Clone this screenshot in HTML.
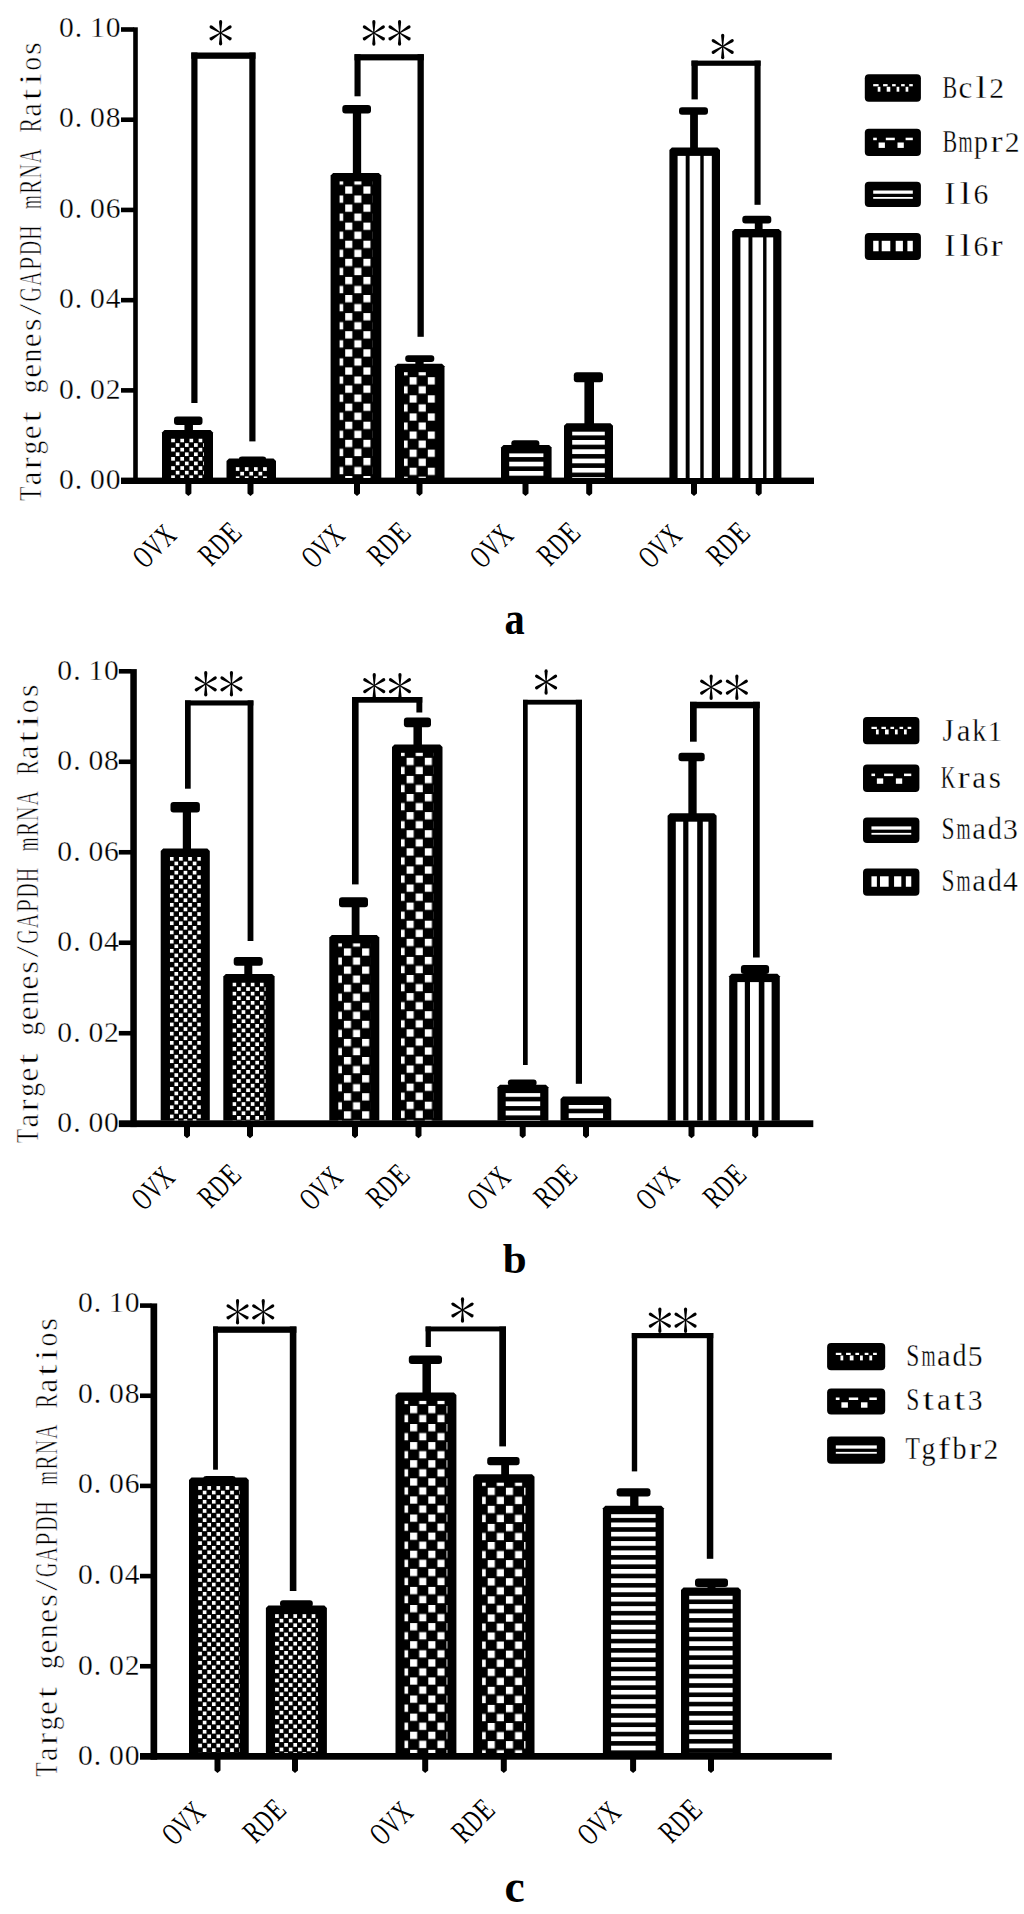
<!DOCTYPE html>
<html><head><meta charset="utf-8"><title>chart</title>
<style>
html,body{margin:0;padding:0;background:#fff;}
svg{display:block;font-family:"Liberation Serif",serif;fill:#000;}
</style></head><body>
<svg width="1024" height="1914" viewBox="0 0 1024 1914">
<defs>
<pattern id="dots" width="9.14" height="9.2" patternUnits="userSpaceOnUse">
<rect x="0" y="0" width="3.7" height="3.7" fill="#fff"/>
<rect x="4.57" y="4.6" width="3.7" height="3.7" fill="#fff"/>
</pattern>
<pattern id="chk" width="18.2" height="18.1" patternUnits="userSpaceOnUse">
<rect x="0" y="0" width="7.1" height="7.3" fill="#fff"/>
<rect x="9.1" y="9.05" width="7.1" height="7.3" fill="#fff"/>
</pattern>
<pattern id="hor" width="9.3" height="9.3" patternUnits="userSpaceOnUse">
<rect x="0" y="0" width="9.3" height="4.7" fill="#fff"/>
</pattern>
<pattern id="ver" width="15.4" height="15.4" patternUnits="userSpaceOnUse">
<rect x="0" y="0" width="3.6" height="15.4" fill="#000"/>
</pattern>
<pattern id="verb" width="15.8" height="15.8" patternUnits="userSpaceOnUse">
<rect x="0" y="0" width="3.8" height="15.8" fill="#000"/>
</pattern>
<g id="ast">
<path id="arm" d="M-0.5 0 L-1.6 -10.8 Q-1.7 -12.8 0 -12.8 Q1.7 -12.8 1.6 -10.8 L0.5 0 Z"/>
<use href="#arm" transform="rotate(180)"/>
<use href="#arm" transform="rotate(58)"/>
<use href="#arm" transform="rotate(-58)"/>
<use href="#arm" transform="rotate(122)"/>
<use href="#arm" transform="rotate(-122)"/>
</g>
</defs>
<rect width="1024" height="1914" fill="#fff"/>
<rect x="133.20" y="27.30" width="4.60" height="456.70" fill="#000"/>
<rect x="121.00" y="27.20" width="13.20" height="4.6" fill="#000"/>
<g transform="translate(120.80 36.70) rotate(0)" font-size="31.0" text-anchor="middle" stroke="#fff" stroke-width="0.3" paint-order="fill stroke"><text x="-54.43" y="0" font-size="29.61">0</text><text x="-42.30" y="0" font-size="29.61">.</text><text x="-23.33" y="0" font-size="29.61">1</text><text x="-7.77" y="0" font-size="29.61">0</text></g>
<rect x="121.00" y="117.42" width="13.20" height="4.6" fill="#000"/>
<g transform="translate(120.80 127.22) rotate(0)" font-size="31.0" text-anchor="middle" stroke="#fff" stroke-width="0.3" paint-order="fill stroke"><text x="-54.43" y="0" font-size="29.61">0</text><text x="-42.30" y="0" font-size="29.61">.</text><text x="-23.33" y="0" font-size="29.61">0</text><text x="-7.77" y="0" font-size="29.61">8</text></g>
<rect x="121.00" y="207.64" width="13.20" height="4.6" fill="#000"/>
<g transform="translate(120.80 217.74) rotate(0)" font-size="31.0" text-anchor="middle" stroke="#fff" stroke-width="0.3" paint-order="fill stroke"><text x="-54.43" y="0" font-size="29.61">0</text><text x="-42.30" y="0" font-size="29.61">.</text><text x="-23.33" y="0" font-size="29.61">0</text><text x="-7.77" y="0" font-size="29.61">6</text></g>
<rect x="121.00" y="297.86" width="13.20" height="4.6" fill="#000"/>
<g transform="translate(120.80 308.26) rotate(0)" font-size="31.0" text-anchor="middle" stroke="#fff" stroke-width="0.3" paint-order="fill stroke"><text x="-54.43" y="0" font-size="29.61">0</text><text x="-42.30" y="0" font-size="29.61">.</text><text x="-23.33" y="0" font-size="29.61">0</text><text x="-7.77" y="0" font-size="29.61">4</text></g>
<rect x="121.00" y="388.08" width="13.20" height="4.6" fill="#000"/>
<g transform="translate(120.80 398.78) rotate(0)" font-size="31.0" text-anchor="middle" stroke="#fff" stroke-width="0.3" paint-order="fill stroke"><text x="-54.43" y="0" font-size="29.61">0</text><text x="-42.30" y="0" font-size="29.61">.</text><text x="-23.33" y="0" font-size="29.61">0</text><text x="-7.77" y="0" font-size="29.61">2</text></g>
<g transform="translate(120.80 489.30) rotate(0)" font-size="31.0" text-anchor="middle" stroke="#fff" stroke-width="0.3" paint-order="fill stroke"><text x="-54.43" y="0" font-size="29.61">0</text><text x="-42.30" y="0" font-size="29.61">.</text><text x="-23.33" y="0" font-size="29.61">0</text><text x="-7.77" y="0" font-size="29.61">0</text></g>
<rect x="121.00" y="477.60" width="693.00" height="6.40" fill="#000"/>
<g transform="translate(41.40 501.40) rotate(-90)" font-size="32" text-anchor="middle" stroke="#fff" stroke-width="0.55" paint-order="fill stroke"><text transform="translate(7.67 0) scale(0.738 1)" x="0" y="0">T</text><text transform="translate(23.02 0) scale(0.973 1)" x="0" y="0">a</text><text transform="translate(38.38 0) scale(1.123 1)" x="0" y="0">r</text><text transform="translate(53.73 0) scale(0.863 1)" x="0" y="0">g</text><text transform="translate(69.08 0) scale(0.973 1)" x="0" y="0">e</text><text transform="translate(84.42 0) scale(1.300 1)" x="0" y="0">t</text><text transform="translate(115.12 0) scale(0.863 1)" x="0" y="0">g</text><text transform="translate(130.47 0) scale(0.973 1)" x="0" y="0">e</text><text transform="translate(145.82 0) scale(0.863 1)" x="0" y="0">n</text><text transform="translate(161.17 0) scale(0.973 1)" x="0" y="0">e</text><text x="176.53" y="0">s</text><text transform="translate(191.88 0) scale(1.300 1)" x="0" y="0">/</text><text transform="translate(207.22 0) scale(0.624 1)" x="0" y="0">G</text><text transform="translate(222.57 0) scale(0.624 1)" x="0" y="0">A</text><text transform="translate(237.92 0) scale(0.760 1)" x="0" y="0">P</text><text transform="translate(253.28 0) scale(0.624 1)" x="0" y="0">D</text><text transform="translate(268.62 0) scale(0.624 1)" x="0" y="0">H</text><text transform="translate(299.32 0) scale(0.555 1)" x="0" y="0">m</text><text transform="translate(314.68 0) scale(0.676 1)" x="0" y="0">R</text><text transform="translate(330.02 0) scale(0.624 1)" x="0" y="0">N</text><text transform="translate(345.38 0) scale(0.624 1)" x="0" y="0">A</text><text transform="translate(376.07 0) scale(0.676 1)" x="0" y="0">R</text><text transform="translate(391.43 0) scale(0.973 1)" x="0" y="0">a</text><text transform="translate(406.77 0) scale(1.300 1)" x="0" y="0">t</text><text transform="translate(422.12 0) scale(1.300 1)" x="0" y="0">i</text><text transform="translate(437.47 0) scale(0.863 1)" x="0" y="0">o</text><text x="452.82" y="0">s</text></g>
<path d="M162.00 478.00 V432.50 L164.50 430.00 H210.50 L213.00 432.50 V478.00 Z" fill="#000"/>
<pattern id="p1" href="#dots" x="171.20" y="438.60"/>
<rect x="171.00" y="438.40" width="33.00" height="39.60" fill="url(#p1)"/>
<path d="M226.50 478.00 V461.10 L229.00 458.60 H273.50 L276.00 461.10 V478.00 Z" fill="#000"/>
<pattern id="p2" href="#dots" x="235.70" y="467.20"/>
<rect x="235.50" y="467.00" width="31.50" height="11.00" fill="url(#p2)"/>
<path d="M330.60 478.00 V175.50 L333.10 173.00 H378.80 L381.30 175.50 V478.00 Z" fill="#000"/>
<pattern id="p3" href="#chk" x="345.20" y="186.40"/>
<rect x="339.60" y="181.40" width="32.70" height="296.60" fill="url(#p3)"/>
<path d="M395.00 478.00 V366.30 L397.50 363.80 H442.00 L444.50 366.30 V478.00 Z" fill="#000"/>
<pattern id="p4" href="#chk" x="409.60" y="377.20"/>
<rect x="404.00" y="372.20" width="31.50" height="105.80" fill="url(#p4)"/>
<path d="M501.00 478.00 V447.50 L503.50 445.00 H549.10 L551.60 447.50 V478.00 Z" fill="#000"/>
<pattern id="p5" href="#hor" x="509.20" y="452.40"/>
<rect x="509.20" y="453.40" width="34.20" height="24.60" fill="url(#p5)"/>
<path d="M564.00 478.00 V425.80 L566.50 423.30 H610.50 L613.00 425.80 V478.00 Z" fill="#000"/>
<pattern id="p6" href="#hor" x="572.20" y="430.70"/>
<rect x="572.20" y="431.70" width="32.60" height="46.30" fill="url(#p6)"/>
<path d="M669.40 478.00 V150.00 L671.90 147.50 H717.50 L720.00 150.00 V478.00 Z" fill="#000"/>
<rect x="677.60" y="155.90" width="34.20" height="322.10" fill="#fff"/>
<rect x="685.70" y="154.90" width="3.90" height="323.10" fill="#000"/>
<rect x="700.30" y="154.90" width="3.40" height="323.10" fill="#000"/>
<path d="M732.20 478.00 V231.50 L734.70 229.00 H778.90 L781.40 231.50 V478.00 Z" fill="#000"/>
<rect x="740.40" y="237.40" width="32.80" height="240.60" fill="#fff"/>
<rect x="748.50" y="236.40" width="3.90" height="241.60" fill="#000"/>
<rect x="763.10" y="236.40" width="3.40" height="241.60" fill="#000"/>
<rect x="174.00" y="416.40" width="28.50" height="8.60" rx="3" fill="#000"/>
<rect x="184.45" y="418.40" width="8.50" height="13.60" fill="#000"/>
<rect x="239.00" y="456.50" width="27.00" height="4.50" rx="3" fill="#000"/>
<rect x="247.75" y="458.50" width="8.50" height="2.50" fill="#000"/>
<rect x="342.30" y="105.00" width="28.70" height="8.50" rx="3" fill="#000"/>
<rect x="352.85" y="107.00" width="8.30" height="68.00" fill="#000"/>
<rect x="405.20" y="355.20" width="29.10" height="6.80" rx="3" fill="#000"/>
<rect x="415.35" y="357.20" width="8.30" height="8.80" fill="#000"/>
<rect x="511.30" y="440.20" width="28.10" height="6.80" rx="3" fill="#000"/>
<rect x="521.35" y="442.20" width="8.30" height="4.80" fill="#000"/>
<rect x="573.80" y="372.20" width="29.20" height="10.00" rx="3" fill="#000"/>
<rect x="584.40" y="374.20" width="9.60" height="50.80" fill="#000"/>
<rect x="679.00" y="107.20" width="29.00" height="7.50" rx="3" fill="#000"/>
<rect x="690.10" y="109.20" width="7.80" height="40.80" fill="#000"/>
<rect x="742.30" y="215.80" width="29.00" height="7.80" rx="3" fill="#000"/>
<rect x="754.80" y="217.80" width="7.80" height="13.20" fill="#000"/>
<rect x="191.30" y="52.50" width="64.20" height="6.30" fill="#000"/>
<rect x="191.30" y="52.50" width="6.20" height="350.50" fill="#000"/>
<rect x="249.30" y="52.50" width="6.20" height="388.90" fill="#000"/>
<rect x="354.50" y="54.20" width="69.30" height="6.20" fill="#000"/>
<rect x="354.50" y="54.20" width="6.10" height="42.10" fill="#000"/>
<rect x="417.50" y="54.20" width="6.30" height="282.60" fill="#000"/>
<rect x="691.50" y="60.60" width="69.10" height="5.20" fill="#000"/>
<rect x="691.50" y="60.60" width="6.30" height="38.80" fill="#000"/>
<rect x="754.50" y="60.60" width="6.10" height="144.20" fill="#000"/>
<use href="#ast" x="220.60" y="32.80"/>
<use href="#ast" x="373.85" y="32.90"/>
<use href="#ast" x="399.55" y="32.90"/>
<use href="#ast" x="722.70" y="46.50"/>
<path d="M185.40 484.00 V493.50 L188.40 496.00 L191.40 493.50 V484.00 Z" fill="#000"/>
<g transform="translate(178.10 537.00) rotate(-45)" font-size="31.5" text-anchor="middle"><text transform="translate(-39.00 0) scale(0.645 1)" x="0" y="0">O</text><text transform="translate(-23.40 0) scale(0.645 1)" x="0" y="0">V</text><text transform="translate(-7.80 0) scale(0.645 1)" x="0" y="0">X</text></g>
<path d="M247.50 484.00 V493.50 L250.50 496.00 L253.50 493.50 V484.00 Z" fill="#000"/>
<g transform="translate(243.70 534.40) rotate(-45)" font-size="31.5" text-anchor="middle"><text transform="translate(-39.00 0) scale(0.698 1)" x="0" y="0">R</text><text transform="translate(-23.40 0) scale(0.645 1)" x="0" y="0">D</text><text transform="translate(-7.80 0) scale(0.760 1)" x="0" y="0">E</text></g>
<path d="M354.00 484.00 V493.50 L357.00 496.00 L360.00 493.50 V484.00 Z" fill="#000"/>
<g transform="translate(346.70 537.00) rotate(-45)" font-size="31.5" text-anchor="middle"><text transform="translate(-39.00 0) scale(0.645 1)" x="0" y="0">O</text><text transform="translate(-23.40 0) scale(0.645 1)" x="0" y="0">V</text><text transform="translate(-7.80 0) scale(0.645 1)" x="0" y="0">X</text></g>
<path d="M416.50 484.00 V493.50 L419.50 496.00 L422.50 493.50 V484.00 Z" fill="#000"/>
<g transform="translate(412.70 534.40) rotate(-45)" font-size="31.5" text-anchor="middle"><text transform="translate(-39.00 0) scale(0.698 1)" x="0" y="0">R</text><text transform="translate(-23.40 0) scale(0.645 1)" x="0" y="0">D</text><text transform="translate(-7.80 0) scale(0.760 1)" x="0" y="0">E</text></g>
<path d="M522.50 484.00 V493.50 L525.50 496.00 L528.50 493.50 V484.00 Z" fill="#000"/>
<g transform="translate(515.20 537.00) rotate(-45)" font-size="31.5" text-anchor="middle"><text transform="translate(-39.00 0) scale(0.645 1)" x="0" y="0">O</text><text transform="translate(-23.40 0) scale(0.645 1)" x="0" y="0">V</text><text transform="translate(-7.80 0) scale(0.645 1)" x="0" y="0">X</text></g>
<path d="M586.20 484.00 V493.50 L589.20 496.00 L592.20 493.50 V484.00 Z" fill="#000"/>
<g transform="translate(582.40 534.40) rotate(-45)" font-size="31.5" text-anchor="middle"><text transform="translate(-39.00 0) scale(0.698 1)" x="0" y="0">R</text><text transform="translate(-23.40 0) scale(0.645 1)" x="0" y="0">D</text><text transform="translate(-7.80 0) scale(0.760 1)" x="0" y="0">E</text></g>
<path d="M691.00 484.00 V493.50 L694.00 496.00 L697.00 493.50 V484.00 Z" fill="#000"/>
<g transform="translate(683.70 537.00) rotate(-45)" font-size="31.5" text-anchor="middle"><text transform="translate(-39.00 0) scale(0.645 1)" x="0" y="0">O</text><text transform="translate(-23.40 0) scale(0.645 1)" x="0" y="0">V</text><text transform="translate(-7.80 0) scale(0.645 1)" x="0" y="0">X</text></g>
<path d="M755.70 484.00 V493.50 L758.70 496.00 L761.70 493.50 V484.00 Z" fill="#000"/>
<g transform="translate(751.90 534.40) rotate(-45)" font-size="31.5" text-anchor="middle"><text transform="translate(-39.00 0) scale(0.698 1)" x="0" y="0">R</text><text transform="translate(-23.40 0) scale(0.645 1)" x="0" y="0">D</text><text transform="translate(-7.80 0) scale(0.760 1)" x="0" y="0">E</text></g>
<rect x="864.80" y="74.30" width="56.10" height="27.50" fill="#000" rx="4"/>
<rect x="873.20" y="84.10" width="5.40" height="2.20" fill="#fff"/>
<rect x="883.10" y="84.10" width="4.50" height="2.20" fill="#fff"/>
<rect x="892.10" y="84.10" width="3.60" height="2.20" fill="#fff"/>
<rect x="901.10" y="84.10" width="3.60" height="2.20" fill="#fff"/>
<rect x="909.20" y="84.10" width="3.60" height="2.20" fill="#fff"/>
<rect x="877.70" y="86.80" width="2.70" height="4.90" fill="#fff"/>
<rect x="886.70" y="86.80" width="3.60" height="4.90" fill="#fff"/>
<rect x="896.60" y="86.80" width="2.70" height="4.90" fill="#fff"/>
<rect x="905.60" y="86.80" width="2.70" height="4.90" fill="#fff"/>
<g transform="translate(942.00 98.20) rotate(0)" font-size="31.0" text-anchor="middle" stroke="#fff" stroke-width="0.3" paint-order="fill stroke"><text transform="translate(7.80 0) scale(0.709 1)" x="0" y="0">B</text><text x="23.40" y="0">c</text><text transform="translate(39.00 0) scale(1.300 1)" x="0" y="0">l</text><text x="54.60" y="0" font-size="29.61">2</text></g>
<rect x="864.80" y="128.70" width="56.10" height="27.30" fill="#000" rx="4"/>
<rect x="873.20" y="137.70" width="3.60" height="2.50" fill="#fff"/>
<rect x="885.80" y="137.70" width="9.00" height="2.50" fill="#fff"/>
<rect x="905.60" y="137.70" width="7.20" height="2.50" fill="#fff"/>
<rect x="878.60" y="142.50" width="6.30" height="5.40" fill="#fff"/>
<rect x="897.50" y="142.50" width="6.30" height="5.40" fill="#fff"/>
<g transform="translate(942.00 152.40) rotate(0)" font-size="31.0" text-anchor="middle" stroke="#fff" stroke-width="0.3" paint-order="fill stroke"><text transform="translate(7.80 0) scale(0.709 1)" x="0" y="0">B</text><text transform="translate(23.40 0) scale(0.582 1)" x="0" y="0">m</text><text transform="translate(39.00 0) scale(0.906 1)" x="0" y="0">p</text><text transform="translate(54.60 0) scale(1.179 1)" x="0" y="0">r</text><text x="70.20" y="0" font-size="29.61">2</text></g>
<rect x="864.80" y="181.70" width="56.10" height="25.20" fill="#000" rx="4"/>
<rect x="873.20" y="190.50" width="39.60" height="3.25" fill="#fff"/>
<rect x="873.20" y="197.00" width="39.60" height="1.80" fill="#fff"/>
<g transform="translate(942.00 203.60) rotate(0)" font-size="31.0" text-anchor="middle" stroke="#fff" stroke-width="0.3" paint-order="fill stroke"><text transform="translate(7.80 0) scale(1.088 1)" x="0" y="0">I</text><text transform="translate(23.40 0) scale(1.300 1)" x="0" y="0">l</text><text x="39.00" y="0" font-size="29.61">6</text></g>
<rect x="864.80" y="232.90" width="56.10" height="27.00" fill="#000" rx="4"/>
<rect x="873.20" y="240.80" width="5.40" height="10.45" fill="#fff"/>
<rect x="881.70" y="240.80" width="8.60" height="10.45" fill="#fff"/>
<rect x="895.70" y="240.80" width="7.20" height="10.45" fill="#fff"/>
<rect x="907.40" y="240.80" width="5.40" height="10.45" fill="#fff"/>
<g transform="translate(942.00 255.80) rotate(0)" font-size="31.0" text-anchor="middle" stroke="#fff" stroke-width="0.3" paint-order="fill stroke"><text transform="translate(7.80 0) scale(1.088 1)" x="0" y="0">I</text><text transform="translate(23.40 0) scale(1.300 1)" x="0" y="0">l</text><text x="39.00" y="0" font-size="29.61">6</text><text transform="translate(54.60 0) scale(1.179 1)" x="0" y="0">r</text></g>
<text transform="translate(514.7 633.5) scale(0.94 1.08)" font-size="43" font-weight="bold" text-anchor="middle">a</text>
<rect x="130.30" y="669.10" width="6.50" height="458.00" fill="#000"/>
<rect x="118.80" y="669.00" width="12.50" height="4.6" fill="#000"/>
<g transform="translate(119.20 679.50) rotate(0)" font-size="31.0" text-anchor="middle" stroke="#fff" stroke-width="0.3" paint-order="fill stroke"><text x="-54.43" y="0" font-size="29.61">0</text><text x="-42.30" y="0" font-size="29.61">.</text><text x="-23.33" y="0" font-size="29.61">1</text><text x="-7.77" y="0" font-size="29.61">0</text></g>
<rect x="118.80" y="759.48" width="12.50" height="4.6" fill="#000"/>
<g transform="translate(119.20 770.00) rotate(0)" font-size="31.0" text-anchor="middle" stroke="#fff" stroke-width="0.3" paint-order="fill stroke"><text x="-54.43" y="0" font-size="29.61">0</text><text x="-42.30" y="0" font-size="29.61">.</text><text x="-23.33" y="0" font-size="29.61">0</text><text x="-7.77" y="0" font-size="29.61">8</text></g>
<rect x="118.80" y="849.96" width="12.50" height="4.6" fill="#000"/>
<g transform="translate(119.20 860.50) rotate(0)" font-size="31.0" text-anchor="middle" stroke="#fff" stroke-width="0.3" paint-order="fill stroke"><text x="-54.43" y="0" font-size="29.61">0</text><text x="-42.30" y="0" font-size="29.61">.</text><text x="-23.33" y="0" font-size="29.61">0</text><text x="-7.77" y="0" font-size="29.61">6</text></g>
<rect x="118.80" y="940.44" width="12.50" height="4.6" fill="#000"/>
<g transform="translate(119.20 951.00) rotate(0)" font-size="31.0" text-anchor="middle" stroke="#fff" stroke-width="0.3" paint-order="fill stroke"><text x="-54.43" y="0" font-size="29.61">0</text><text x="-42.30" y="0" font-size="29.61">.</text><text x="-23.33" y="0" font-size="29.61">0</text><text x="-7.77" y="0" font-size="29.61">4</text></g>
<rect x="118.80" y="1030.92" width="12.50" height="4.6" fill="#000"/>
<g transform="translate(119.20 1041.50) rotate(0)" font-size="31.0" text-anchor="middle" stroke="#fff" stroke-width="0.3" paint-order="fill stroke"><text x="-54.43" y="0" font-size="29.61">0</text><text x="-42.30" y="0" font-size="29.61">.</text><text x="-23.33" y="0" font-size="29.61">0</text><text x="-7.77" y="0" font-size="29.61">2</text></g>
<g transform="translate(119.20 1132.00) rotate(0)" font-size="31.0" text-anchor="middle" stroke="#fff" stroke-width="0.3" paint-order="fill stroke"><text x="-54.43" y="0" font-size="29.61">0</text><text x="-42.30" y="0" font-size="29.61">.</text><text x="-23.33" y="0" font-size="29.61">0</text><text x="-7.77" y="0" font-size="29.61">0</text></g>
<rect x="118.80" y="1120.30" width="694.50" height="6.80" fill="#000"/>
<g transform="translate(38.30 1143.70) rotate(-90)" font-size="32" text-anchor="middle" stroke="#fff" stroke-width="0.55" paint-order="fill stroke"><text transform="translate(7.67 0) scale(0.738 1)" x="0" y="0">T</text><text transform="translate(23.02 0) scale(0.973 1)" x="0" y="0">a</text><text transform="translate(38.38 0) scale(1.123 1)" x="0" y="0">r</text><text transform="translate(53.73 0) scale(0.863 1)" x="0" y="0">g</text><text transform="translate(69.08 0) scale(0.973 1)" x="0" y="0">e</text><text transform="translate(84.42 0) scale(1.300 1)" x="0" y="0">t</text><text transform="translate(115.12 0) scale(0.863 1)" x="0" y="0">g</text><text transform="translate(130.47 0) scale(0.973 1)" x="0" y="0">e</text><text transform="translate(145.82 0) scale(0.863 1)" x="0" y="0">n</text><text transform="translate(161.17 0) scale(0.973 1)" x="0" y="0">e</text><text x="176.53" y="0">s</text><text transform="translate(191.88 0) scale(1.300 1)" x="0" y="0">/</text><text transform="translate(207.22 0) scale(0.624 1)" x="0" y="0">G</text><text transform="translate(222.57 0) scale(0.624 1)" x="0" y="0">A</text><text transform="translate(237.92 0) scale(0.760 1)" x="0" y="0">P</text><text transform="translate(253.28 0) scale(0.624 1)" x="0" y="0">D</text><text transform="translate(268.62 0) scale(0.624 1)" x="0" y="0">H</text><text transform="translate(299.32 0) scale(0.555 1)" x="0" y="0">m</text><text transform="translate(314.68 0) scale(0.676 1)" x="0" y="0">R</text><text transform="translate(330.02 0) scale(0.624 1)" x="0" y="0">N</text><text transform="translate(345.38 0) scale(0.624 1)" x="0" y="0">A</text><text transform="translate(376.07 0) scale(0.676 1)" x="0" y="0">R</text><text transform="translate(391.43 0) scale(0.973 1)" x="0" y="0">a</text><text transform="translate(406.77 0) scale(1.300 1)" x="0" y="0">t</text><text transform="translate(422.12 0) scale(1.300 1)" x="0" y="0">i</text><text transform="translate(437.47 0) scale(0.863 1)" x="0" y="0">o</text><text x="452.82" y="0">s</text></g>
<path d="M160.70 1120.50 V850.90 L163.20 848.40 H207.30 L209.80 850.90 V1120.50 Z" fill="#000"/>
<pattern id="p7" href="#dots" x="169.90" y="857.00"/>
<rect x="169.70" y="856.80" width="31.10" height="263.70" fill="url(#p7)"/>
<path d="M223.30 1120.50 V976.50 L225.80 974.00 H272.10 L274.60 976.50 V1120.50 Z" fill="#000"/>
<pattern id="p8" href="#dots" x="232.50" y="982.60"/>
<rect x="232.30" y="982.40" width="33.30" height="138.10" fill="url(#p8)"/>
<path d="M329.30 1120.50 V937.50 L331.80 935.00 H376.80 L379.30 937.50 V1120.50 Z" fill="#000"/>
<pattern id="p9" href="#chk" x="343.90" y="948.40"/>
<rect x="338.30" y="943.40" width="32.00" height="177.10" fill="url(#p9)"/>
<path d="M392.00 1120.50 V746.90 L394.50 744.40 H440.00 L442.50 746.90 V1120.50 Z" fill="#000"/>
<pattern id="p10" href="#chk" x="406.60" y="757.80"/>
<rect x="401.00" y="752.80" width="32.50" height="367.70" fill="url(#p10)"/>
<path d="M497.50 1120.50 V1087.20 L500.00 1084.70 H545.90 L548.40 1087.20 V1120.50 Z" fill="#000"/>
<pattern id="p11" href="#hor" x="505.70" y="1092.10"/>
<rect x="505.70" y="1093.10" width="34.50" height="27.40" fill="url(#p11)"/>
<path d="M560.50 1120.50 V1099.10 L563.00 1096.60 H608.75 L611.25 1099.10 V1120.50 Z" fill="#000"/>
<pattern id="p12" href="#hor" x="568.70" y="1104.00"/>
<rect x="568.70" y="1105.00" width="34.35" height="15.50" fill="url(#p12)"/>
<path d="M667.60 1120.50 V815.80 L670.10 813.30 H714.10 L716.60 815.80 V1120.50 Z" fill="#000"/>
<rect x="675.80" y="821.70" width="32.60" height="298.80" fill="#fff"/>
<rect x="683.20" y="820.70" width="5.20" height="299.80" fill="#000"/>
<rect x="697.20" y="820.70" width="5.60" height="299.80" fill="#000"/>
<path d="M729.20 1120.50 V976.20 L731.70 973.70 H777.30 L779.80 976.20 V1120.50 Z" fill="#000"/>
<rect x="737.40" y="982.10" width="34.20" height="138.40" fill="#fff"/>
<rect x="744.80" y="981.10" width="5.20" height="139.40" fill="#000"/>
<rect x="758.80" y="981.10" width="5.60" height="139.40" fill="#000"/>
<rect x="170.50" y="802.00" width="29.40" height="10.40" rx="3" fill="#000"/>
<rect x="182.80" y="804.00" width="8.20" height="46.00" fill="#000"/>
<rect x="233.70" y="957.00" width="29.10" height="8.70" rx="3" fill="#000"/>
<rect x="244.30" y="959.00" width="8.00" height="18.00" fill="#000"/>
<rect x="339.00" y="897.30" width="29.00" height="9.90" rx="3" fill="#000"/>
<rect x="351.70" y="899.30" width="7.80" height="37.70" fill="#000"/>
<rect x="403.90" y="717.50" width="27.10" height="9.70" rx="3" fill="#000"/>
<rect x="413.45" y="719.50" width="8.50" height="27.50" fill="#000"/>
<rect x="507.80" y="1079.40" width="28.80" height="6.60" rx="3" fill="#000"/>
<rect x="518.45" y="1081.40" width="7.50" height="4.60" fill="#000"/>
<rect x="678.50" y="752.70" width="26.20" height="8.60" rx="3" fill="#000"/>
<rect x="688.35" y="754.70" width="8.30" height="60.30" fill="#000"/>
<rect x="740.90" y="965.00" width="28.20" height="9.00" rx="3" fill="#000"/>
<rect x="751.40" y="967.00" width="7.20" height="9.00" fill="#000"/>
<rect x="185.00" y="700.40" width="68.40" height="5.10" fill="#000"/>
<rect x="185.00" y="700.40" width="5.70" height="88.30" fill="#000"/>
<rect x="247.60" y="700.40" width="5.80" height="240.60" fill="#000"/>
<rect x="352.00" y="697.00" width="70.30" height="5.70" fill="#000"/>
<rect x="352.00" y="697.00" width="6.60" height="187.40" fill="#000"/>
<rect x="416.40" y="697.00" width="5.90" height="15.50" fill="#000"/>
<rect x="523.00" y="699.80" width="59.00" height="4.80" fill="#000"/>
<rect x="523.00" y="699.80" width="4.70" height="365.20" fill="#000"/>
<rect x="575.80" y="699.80" width="6.20" height="384.00" fill="#000"/>
<rect x="690.00" y="701.80" width="69.70" height="6.50" fill="#000"/>
<rect x="690.00" y="701.80" width="6.70" height="39.90" fill="#000"/>
<rect x="753.00" y="701.80" width="6.70" height="255.70" fill="#000"/>
<use href="#ast" x="205.75" y="683.80"/>
<use href="#ast" x="231.45" y="683.80"/>
<use href="#ast" x="374.25" y="685.70"/>
<use href="#ast" x="399.95" y="685.70"/>
<use href="#ast" x="546.10" y="682.00"/>
<use href="#ast" x="711.15" y="687.20"/>
<use href="#ast" x="736.85" y="687.20"/>
<path d="M184.00 1126.00 V1135.80 L187.00 1138.30 L190.00 1135.80 V1126.00 Z" fill="#000"/>
<g transform="translate(176.70 1179.00) rotate(-45)" font-size="31.5" text-anchor="middle"><text transform="translate(-39.00 0) scale(0.645 1)" x="0" y="0">O</text><text transform="translate(-23.40 0) scale(0.645 1)" x="0" y="0">V</text><text transform="translate(-7.80 0) scale(0.645 1)" x="0" y="0">X</text></g>
<path d="M247.00 1126.00 V1135.80 L250.00 1138.30 L253.00 1135.80 V1126.00 Z" fill="#000"/>
<g transform="translate(243.20 1176.40) rotate(-45)" font-size="31.5" text-anchor="middle"><text transform="translate(-39.00 0) scale(0.698 1)" x="0" y="0">R</text><text transform="translate(-23.40 0) scale(0.645 1)" x="0" y="0">D</text><text transform="translate(-7.80 0) scale(0.760 1)" x="0" y="0">E</text></g>
<path d="M352.00 1126.00 V1135.80 L355.00 1138.30 L358.00 1135.80 V1126.00 Z" fill="#000"/>
<g transform="translate(344.70 1179.00) rotate(-45)" font-size="31.5" text-anchor="middle"><text transform="translate(-39.00 0) scale(0.645 1)" x="0" y="0">O</text><text transform="translate(-23.40 0) scale(0.645 1)" x="0" y="0">V</text><text transform="translate(-7.80 0) scale(0.645 1)" x="0" y="0">X</text></g>
<path d="M415.50 1126.00 V1135.80 L418.50 1138.30 L421.50 1135.80 V1126.00 Z" fill="#000"/>
<g transform="translate(411.70 1176.40) rotate(-45)" font-size="31.5" text-anchor="middle"><text transform="translate(-39.00 0) scale(0.698 1)" x="0" y="0">R</text><text transform="translate(-23.40 0) scale(0.645 1)" x="0" y="0">D</text><text transform="translate(-7.80 0) scale(0.760 1)" x="0" y="0">E</text></g>
<path d="M519.70 1126.00 V1135.80 L522.70 1138.30 L525.70 1135.80 V1126.00 Z" fill="#000"/>
<g transform="translate(512.40 1179.00) rotate(-45)" font-size="31.5" text-anchor="middle"><text transform="translate(-39.00 0) scale(0.645 1)" x="0" y="0">O</text><text transform="translate(-23.40 0) scale(0.645 1)" x="0" y="0">V</text><text transform="translate(-7.80 0) scale(0.645 1)" x="0" y="0">X</text></g>
<path d="M583.00 1126.00 V1135.80 L586.00 1138.30 L589.00 1135.80 V1126.00 Z" fill="#000"/>
<g transform="translate(579.20 1176.40) rotate(-45)" font-size="31.5" text-anchor="middle"><text transform="translate(-39.00 0) scale(0.698 1)" x="0" y="0">R</text><text transform="translate(-23.40 0) scale(0.645 1)" x="0" y="0">D</text><text transform="translate(-7.80 0) scale(0.760 1)" x="0" y="0">E</text></g>
<path d="M688.50 1126.00 V1135.80 L691.50 1138.30 L694.50 1135.80 V1126.00 Z" fill="#000"/>
<g transform="translate(681.20 1179.00) rotate(-45)" font-size="31.5" text-anchor="middle"><text transform="translate(-39.00 0) scale(0.645 1)" x="0" y="0">O</text><text transform="translate(-23.40 0) scale(0.645 1)" x="0" y="0">V</text><text transform="translate(-7.80 0) scale(0.645 1)" x="0" y="0">X</text></g>
<path d="M752.20 1126.00 V1135.80 L755.20 1138.30 L758.20 1135.80 V1126.00 Z" fill="#000"/>
<g transform="translate(748.40 1176.40) rotate(-45)" font-size="31.5" text-anchor="middle"><text transform="translate(-39.00 0) scale(0.698 1)" x="0" y="0">R</text><text transform="translate(-23.40 0) scale(0.645 1)" x="0" y="0">D</text><text transform="translate(-7.80 0) scale(0.760 1)" x="0" y="0">E</text></g>
<rect x="863.00" y="717.00" width="56.40" height="27.30" fill="#000" rx="4"/>
<rect x="871.44" y="726.80" width="5.43" height="2.20" fill="#fff"/>
<rect x="881.40" y="726.80" width="4.52" height="2.20" fill="#fff"/>
<rect x="890.45" y="726.80" width="3.62" height="2.20" fill="#fff"/>
<rect x="899.49" y="726.80" width="3.62" height="2.20" fill="#fff"/>
<rect x="907.64" y="726.80" width="3.62" height="2.20" fill="#fff"/>
<rect x="875.97" y="729.50" width="2.71" height="4.90" fill="#fff"/>
<rect x="885.02" y="729.50" width="3.62" height="4.90" fill="#fff"/>
<rect x="894.97" y="729.50" width="2.71" height="4.90" fill="#fff"/>
<rect x="904.02" y="729.50" width="2.71" height="4.90" fill="#fff"/>
<g transform="translate(940.20 741.20) rotate(0)" font-size="31.0" text-anchor="middle" stroke="#fff" stroke-width="0.3" paint-order="fill stroke"><text transform="translate(7.80 0) scale(0.931 1)" x="0" y="0">J</text><text x="23.40" y="0">a</text><text transform="translate(39.00 0) scale(0.906 1)" x="0" y="0">k</text><text x="54.60" y="0" font-size="29.61">1</text></g>
<rect x="863.00" y="764.60" width="56.40" height="27.40" fill="#000" rx="4"/>
<rect x="871.44" y="773.60" width="3.62" height="2.50" fill="#fff"/>
<rect x="884.11" y="773.60" width="9.05" height="2.50" fill="#fff"/>
<rect x="904.02" y="773.60" width="7.24" height="2.50" fill="#fff"/>
<rect x="876.87" y="778.40" width="6.33" height="5.40" fill="#fff"/>
<rect x="895.87" y="778.40" width="6.33" height="5.40" fill="#fff"/>
<g transform="translate(940.20 788.00) rotate(0)" font-size="31.0" text-anchor="middle" stroke="#fff" stroke-width="0.3" paint-order="fill stroke"><text transform="translate(7.80 0) scale(0.655 1)" x="0" y="0">K</text><text transform="translate(23.40 0) scale(1.179 1)" x="0" y="0">r</text><text x="39.00" y="0">a</text><text transform="translate(54.60 0) scale(1.009 1)" x="0" y="0">s</text></g>
<rect x="863.00" y="817.60" width="56.40" height="25.40" fill="#000" rx="4"/>
<rect x="871.44" y="826.40" width="39.81" height="3.25" fill="#fff"/>
<rect x="871.44" y="832.90" width="39.81" height="1.80" fill="#fff"/>
<g transform="translate(940.20 838.80) rotate(0)" font-size="31.0" text-anchor="middle" stroke="#fff" stroke-width="0.3" paint-order="fill stroke"><text transform="translate(7.80 0) scale(0.760 1)" x="0" y="0">S</text><text transform="translate(23.40 0) scale(0.582 1)" x="0" y="0">m</text><text x="39.00" y="0">a</text><text transform="translate(54.60 0) scale(0.906 1)" x="0" y="0">d</text><text x="70.20" y="0" font-size="29.61">3</text></g>
<rect x="863.00" y="868.40" width="56.40" height="27.40" fill="#000" rx="4"/>
<rect x="871.44" y="876.30" width="5.43" height="10.45" fill="#fff"/>
<rect x="879.99" y="876.30" width="8.65" height="10.45" fill="#fff"/>
<rect x="894.07" y="876.30" width="7.24" height="10.45" fill="#fff"/>
<rect x="905.83" y="876.30" width="5.43" height="10.45" fill="#fff"/>
<g transform="translate(940.20 891.30) rotate(0)" font-size="31.0" text-anchor="middle" stroke="#fff" stroke-width="0.3" paint-order="fill stroke"><text transform="translate(7.80 0) scale(0.760 1)" x="0" y="0">S</text><text transform="translate(23.40 0) scale(0.582 1)" x="0" y="0">m</text><text x="39.00" y="0">a</text><text transform="translate(54.60 0) scale(0.906 1)" x="0" y="0">d</text><text x="70.20" y="0" font-size="29.61">4</text></g>
<text x="514.7" y="1273" font-size="43" font-weight="bold" text-anchor="middle">b</text>
<rect x="150.50" y="1303.40" width="6.70" height="456.30" fill="#000"/>
<rect x="140.00" y="1303.30" width="11.50" height="4.6" fill="#000"/>
<g transform="translate(139.80 1312.40) rotate(0)" font-size="31.0" text-anchor="middle" stroke="#fff" stroke-width="0.3" paint-order="fill stroke"><text x="-54.43" y="0" font-size="29.61">0</text><text x="-42.30" y="0" font-size="29.61">.</text><text x="-23.33" y="0" font-size="29.61">1</text><text x="-7.77" y="0" font-size="29.61">0</text></g>
<rect x="140.00" y="1393.46" width="11.50" height="4.6" fill="#000"/>
<g transform="translate(139.80 1402.94) rotate(0)" font-size="31.0" text-anchor="middle" stroke="#fff" stroke-width="0.3" paint-order="fill stroke"><text x="-54.43" y="0" font-size="29.61">0</text><text x="-42.30" y="0" font-size="29.61">.</text><text x="-23.33" y="0" font-size="29.61">0</text><text x="-7.77" y="0" font-size="29.61">8</text></g>
<rect x="140.00" y="1483.62" width="11.50" height="4.6" fill="#000"/>
<g transform="translate(139.80 1493.48) rotate(0)" font-size="31.0" text-anchor="middle" stroke="#fff" stroke-width="0.3" paint-order="fill stroke"><text x="-54.43" y="0" font-size="29.61">0</text><text x="-42.30" y="0" font-size="29.61">.</text><text x="-23.33" y="0" font-size="29.61">0</text><text x="-7.77" y="0" font-size="29.61">6</text></g>
<rect x="140.00" y="1573.78" width="11.50" height="4.6" fill="#000"/>
<g transform="translate(139.80 1584.02) rotate(0)" font-size="31.0" text-anchor="middle" stroke="#fff" stroke-width="0.3" paint-order="fill stroke"><text x="-54.43" y="0" font-size="29.61">0</text><text x="-42.30" y="0" font-size="29.61">.</text><text x="-23.33" y="0" font-size="29.61">0</text><text x="-7.77" y="0" font-size="29.61">4</text></g>
<rect x="140.00" y="1663.94" width="11.50" height="4.6" fill="#000"/>
<g transform="translate(139.80 1674.56) rotate(0)" font-size="31.0" text-anchor="middle" stroke="#fff" stroke-width="0.3" paint-order="fill stroke"><text x="-54.43" y="0" font-size="29.61">0</text><text x="-42.30" y="0" font-size="29.61">.</text><text x="-23.33" y="0" font-size="29.61">0</text><text x="-7.77" y="0" font-size="29.61">2</text></g>
<g transform="translate(139.80 1765.10) rotate(0)" font-size="31.0" text-anchor="middle" stroke="#fff" stroke-width="0.3" paint-order="fill stroke"><text x="-54.43" y="0" font-size="29.61">0</text><text x="-42.30" y="0" font-size="29.61">.</text><text x="-23.33" y="0" font-size="29.61">0</text><text x="-7.77" y="0" font-size="29.61">0</text></g>
<rect x="140.00" y="1753.00" width="691.80" height="6.70" fill="#000"/>
<g transform="translate(56.70 1777.10) rotate(-90)" font-size="32" text-anchor="middle" stroke="#fff" stroke-width="0.55" paint-order="fill stroke"><text transform="translate(7.67 0) scale(0.738 1)" x="0" y="0">T</text><text transform="translate(23.02 0) scale(0.973 1)" x="0" y="0">a</text><text transform="translate(38.38 0) scale(1.123 1)" x="0" y="0">r</text><text transform="translate(53.73 0) scale(0.863 1)" x="0" y="0">g</text><text transform="translate(69.08 0) scale(0.973 1)" x="0" y="0">e</text><text transform="translate(84.42 0) scale(1.300 1)" x="0" y="0">t</text><text transform="translate(115.12 0) scale(0.863 1)" x="0" y="0">g</text><text transform="translate(130.47 0) scale(0.973 1)" x="0" y="0">e</text><text transform="translate(145.82 0) scale(0.863 1)" x="0" y="0">n</text><text transform="translate(161.17 0) scale(0.973 1)" x="0" y="0">e</text><text x="176.53" y="0">s</text><text transform="translate(191.88 0) scale(1.300 1)" x="0" y="0">/</text><text transform="translate(207.22 0) scale(0.624 1)" x="0" y="0">G</text><text transform="translate(222.57 0) scale(0.624 1)" x="0" y="0">A</text><text transform="translate(237.92 0) scale(0.760 1)" x="0" y="0">P</text><text transform="translate(253.28 0) scale(0.624 1)" x="0" y="0">D</text><text transform="translate(268.62 0) scale(0.624 1)" x="0" y="0">H</text><text transform="translate(299.32 0) scale(0.555 1)" x="0" y="0">m</text><text transform="translate(314.68 0) scale(0.676 1)" x="0" y="0">R</text><text transform="translate(330.02 0) scale(0.624 1)" x="0" y="0">N</text><text transform="translate(345.38 0) scale(0.624 1)" x="0" y="0">A</text><text transform="translate(376.07 0) scale(0.676 1)" x="0" y="0">R</text><text transform="translate(391.43 0) scale(0.973 1)" x="0" y="0">a</text><text transform="translate(406.77 0) scale(1.300 1)" x="0" y="0">t</text><text transform="translate(422.12 0) scale(1.300 1)" x="0" y="0">i</text><text transform="translate(437.47 0) scale(0.863 1)" x="0" y="0">o</text><text x="452.82" y="0">s</text></g>
<path d="M189.00 1753.00 V1480.00 L191.50 1477.50 H246.25 L248.75 1480.00 V1753.00 Z" fill="#000"/>
<pattern id="p13" href="#dots" x="198.20" y="1486.10"/>
<rect x="198.00" y="1485.90" width="41.75" height="267.10" fill="url(#p13)"/>
<path d="M265.90 1753.00 V1608.10 L268.40 1605.60 H324.40 L326.90 1608.10 V1753.00 Z" fill="#000"/>
<pattern id="p14" href="#dots" x="275.10" y="1614.20"/>
<rect x="274.90" y="1614.00" width="43.00" height="139.00" fill="url(#p14)"/>
<path d="M395.50 1753.00 V1395.00 L398.00 1392.50 H453.90 L456.40 1395.00 V1753.00 Z" fill="#000"/>
<pattern id="p15" href="#chk" x="410.10" y="1405.90"/>
<rect x="404.50" y="1400.90" width="42.90" height="352.10" fill="url(#p15)"/>
<path d="M473.10 1753.00 V1476.80 L475.60 1474.30 H532.00 L534.50 1476.80 V1753.00 Z" fill="#000"/>
<pattern id="p16" href="#chk" x="487.70" y="1487.70"/>
<rect x="482.10" y="1482.70" width="43.40" height="270.30" fill="url(#p16)"/>
<path d="M602.90 1753.00 V1508.30 L605.40 1505.80 H661.30 L663.80 1508.30 V1753.00 Z" fill="#000"/>
<pattern id="p17" href="#hor" x="611.10" y="1513.20"/>
<rect x="611.10" y="1514.20" width="44.50" height="238.80" fill="url(#p17)"/>
<path d="M681.00 1753.00 V1589.90 L683.50 1587.40 H738.30 L740.80 1589.90 V1753.00 Z" fill="#000"/>
<pattern id="p18" href="#hor" x="689.20" y="1594.80"/>
<rect x="689.20" y="1595.80" width="43.40" height="157.20" fill="url(#p18)"/>
<rect x="203.40" y="1476.00" width="32.10" height="4.00" rx="3" fill="#000"/>
<rect x="215.00" y="1478.00" width="8.00" height="2.00" fill="#000"/>
<rect x="280.00" y="1600.20" width="32.80" height="6.80" rx="3" fill="#000"/>
<rect x="292.00" y="1602.20" width="8.00" height="4.80" fill="#000"/>
<rect x="408.80" y="1355.40" width="33.20" height="8.60" rx="3" fill="#000"/>
<rect x="422.45" y="1357.40" width="8.50" height="37.60" fill="#000"/>
<rect x="487.20" y="1457.00" width="32.40" height="8.30" rx="3" fill="#000"/>
<rect x="501.20" y="1459.00" width="7.80" height="18.00" fill="#000"/>
<rect x="616.60" y="1488.20" width="33.90" height="8.40" rx="3" fill="#000"/>
<rect x="630.15" y="1490.20" width="8.30" height="17.80" fill="#000"/>
<rect x="695.00" y="1578.40" width="33.00" height="8.60" rx="3" fill="#000"/>
<rect x="707.50" y="1580.40" width="8.00" height="8.60" fill="#000"/>
<rect x="213.10" y="1326.50" width="83.30" height="6.30" fill="#000"/>
<rect x="213.10" y="1326.50" width="4.80" height="143.20" fill="#000"/>
<rect x="289.80" y="1326.50" width="6.60" height="264.50" fill="#000"/>
<rect x="425.60" y="1326.50" width="80.40" height="4.90" fill="#000"/>
<rect x="425.60" y="1326.50" width="5.30" height="20.50" fill="#000"/>
<rect x="499.30" y="1326.50" width="6.70" height="119.90" fill="#000"/>
<rect x="631.80" y="1333.00" width="81.50" height="5.20" fill="#000"/>
<rect x="631.80" y="1333.00" width="5.40" height="138.40" fill="#000"/>
<rect x="706.80" y="1333.00" width="6.50" height="225.80" fill="#000"/>
<use href="#ast" x="237.55" y="1311.80"/>
<use href="#ast" x="263.25" y="1311.80"/>
<use href="#ast" x="462.50" y="1310.00"/>
<use href="#ast" x="659.85" y="1320.20"/>
<use href="#ast" x="685.55" y="1320.20"/>
<path d="M214.50 1759.00 V1770.50 L217.50 1773.00 L220.50 1770.50 V1759.00 Z" fill="#000"/>
<g transform="translate(207.20 1814.00) rotate(-45)" font-size="31.5" text-anchor="middle"><text transform="translate(-39.00 0) scale(0.645 1)" x="0" y="0">O</text><text transform="translate(-23.40 0) scale(0.645 1)" x="0" y="0">V</text><text transform="translate(-7.80 0) scale(0.645 1)" x="0" y="0">X</text></g>
<path d="M292.00 1759.00 V1770.50 L295.00 1773.00 L298.00 1770.50 V1759.00 Z" fill="#000"/>
<g transform="translate(288.20 1811.40) rotate(-45)" font-size="31.5" text-anchor="middle"><text transform="translate(-39.00 0) scale(0.698 1)" x="0" y="0">R</text><text transform="translate(-23.40 0) scale(0.645 1)" x="0" y="0">D</text><text transform="translate(-7.80 0) scale(0.760 1)" x="0" y="0">E</text></g>
<path d="M422.20 1759.00 V1770.50 L425.20 1773.00 L428.20 1770.50 V1759.00 Z" fill="#000"/>
<g transform="translate(414.90 1814.00) rotate(-45)" font-size="31.5" text-anchor="middle"><text transform="translate(-39.00 0) scale(0.645 1)" x="0" y="0">O</text><text transform="translate(-23.40 0) scale(0.645 1)" x="0" y="0">V</text><text transform="translate(-7.80 0) scale(0.645 1)" x="0" y="0">X</text></g>
<path d="M500.80 1759.00 V1770.50 L503.80 1773.00 L506.80 1770.50 V1759.00 Z" fill="#000"/>
<g transform="translate(497.00 1811.40) rotate(-45)" font-size="31.5" text-anchor="middle"><text transform="translate(-39.00 0) scale(0.698 1)" x="0" y="0">R</text><text transform="translate(-23.40 0) scale(0.645 1)" x="0" y="0">D</text><text transform="translate(-7.80 0) scale(0.760 1)" x="0" y="0">E</text></g>
<path d="M630.10 1759.00 V1770.50 L633.10 1773.00 L636.10 1770.50 V1759.00 Z" fill="#000"/>
<g transform="translate(622.80 1814.00) rotate(-45)" font-size="31.5" text-anchor="middle"><text transform="translate(-39.00 0) scale(0.645 1)" x="0" y="0">O</text><text transform="translate(-23.40 0) scale(0.645 1)" x="0" y="0">V</text><text transform="translate(-7.80 0) scale(0.645 1)" x="0" y="0">X</text></g>
<path d="M708.00 1759.00 V1770.50 L711.00 1773.00 L714.00 1770.50 V1759.00 Z" fill="#000"/>
<g transform="translate(704.20 1811.40) rotate(-45)" font-size="31.5" text-anchor="middle"><text transform="translate(-39.00 0) scale(0.698 1)" x="0" y="0">R</text><text transform="translate(-23.40 0) scale(0.645 1)" x="0" y="0">D</text><text transform="translate(-7.80 0) scale(0.760 1)" x="0" y="0">E</text></g>
<rect x="827.10" y="1343.00" width="58.10" height="27.20" fill="#000" rx="4"/>
<rect x="835.80" y="1352.80" width="5.59" height="2.20" fill="#fff"/>
<rect x="846.05" y="1352.80" width="4.66" height="2.20" fill="#fff"/>
<rect x="855.37" y="1352.80" width="3.73" height="2.20" fill="#fff"/>
<rect x="864.69" y="1352.80" width="3.73" height="2.20" fill="#fff"/>
<rect x="873.08" y="1352.80" width="3.73" height="2.20" fill="#fff"/>
<rect x="840.46" y="1355.50" width="2.80" height="4.90" fill="#fff"/>
<rect x="849.78" y="1355.50" width="3.73" height="4.90" fill="#fff"/>
<rect x="860.03" y="1355.50" width="2.80" height="4.90" fill="#fff"/>
<rect x="869.35" y="1355.50" width="2.80" height="4.90" fill="#fff"/>
<g transform="translate(905.00 1366.40) rotate(0)" font-size="31.0" text-anchor="middle" stroke="#fff" stroke-width="0.3" paint-order="fill stroke"><text transform="translate(7.80 0) scale(0.760 1)" x="0" y="0">S</text><text transform="translate(23.40 0) scale(0.582 1)" x="0" y="0">m</text><text x="39.00" y="0">a</text><text transform="translate(54.60 0) scale(0.906 1)" x="0" y="0">d</text><text x="70.20" y="0" font-size="29.61">5</text></g>
<rect x="827.10" y="1388.50" width="58.10" height="26.00" fill="#000" rx="4"/>
<rect x="835.80" y="1397.50" width="3.73" height="2.50" fill="#fff"/>
<rect x="848.85" y="1397.50" width="9.32" height="2.50" fill="#fff"/>
<rect x="869.35" y="1397.50" width="7.46" height="2.50" fill="#fff"/>
<rect x="841.39" y="1402.30" width="6.52" height="5.40" fill="#fff"/>
<rect x="860.97" y="1402.30" width="6.52" height="5.40" fill="#fff"/>
<g transform="translate(905.00 1410.30) rotate(0)" font-size="31.0" text-anchor="middle" stroke="#fff" stroke-width="0.3" paint-order="fill stroke"><text transform="translate(7.80 0) scale(0.760 1)" x="0" y="0">S</text><text transform="translate(23.40 0) scale(1.300 1)" x="0" y="0">t</text><text x="39.00" y="0">a</text><text transform="translate(54.60 0) scale(1.300 1)" x="0" y="0">t</text><text x="70.20" y="0" font-size="29.61">3</text></g>
<rect x="827.10" y="1436.60" width="58.10" height="27.20" fill="#000" rx="4"/>
<rect x="835.80" y="1445.40" width="41.01" height="3.25" fill="#fff"/>
<rect x="835.80" y="1451.90" width="41.01" height="1.80" fill="#fff"/>
<g transform="translate(905.00 1459.00) rotate(0)" font-size="31.0" text-anchor="middle" stroke="#fff" stroke-width="0.3" paint-order="fill stroke"><text transform="translate(7.80 0) scale(0.760 1)" x="0" y="0">T</text><text transform="translate(23.40 0) scale(0.906 1)" x="0" y="0">g</text><text transform="translate(39.00 0) scale(1.179 1)" x="0" y="0">f</text><text transform="translate(54.60 0) scale(0.906 1)" x="0" y="0">b</text><text transform="translate(70.20 0) scale(1.179 1)" x="0" y="0">r</text><text x="85.80" y="0" font-size="29.61">2</text></g>
<text transform="translate(514.6 1902.3) scale(1.06 1.08)" font-size="43" font-weight="bold" text-anchor="middle">c</text>
</svg></body></html>
